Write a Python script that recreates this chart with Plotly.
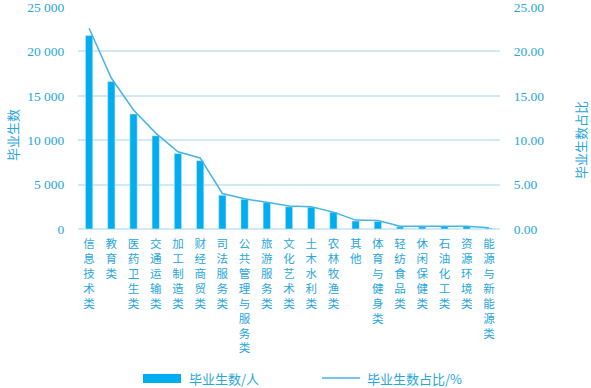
import plotly.graph_objects as go

categories = ["信息技术类", "教育类", "医药卫生类", "交通运输类", "加工制造类", "财经商贸类",
              "司法服务类", "公共管理与服务类", "旅游服务类", "文化艺术类", "土木水利类",
              "农林牧渔类", "其他", "体育与健身类", "轻纺食品类", "休闲保健类", "石油化工类",
              "资源环境类", "能源与新能源类"]
graduates = [21800, 16600, 12950, 10500, 8500, 7700, 3800, 3350, 3000, 2500, 2450,
             1900, 900, 850, 250, 250, 300, 300, 100]
share_pct = [22.6, 17.0, 13.4, 10.8, 8.7, 8.0, 4.0, 3.4, 3.0, 2.6, 2.5,
             1.9, 1.0, 0.95, 0.3, 0.3, 0.3, 0.3, 0.15]
left_ticks = [0, 5000, 10000, 15000, 20000, 25000]
right_ticks = [0, 5, 10, 15, 20, 25]

BAR = "#00AEEF"
LINE = "#45B5E3"
TXT = "#27A6DD"
GRID = "#CFEAF6"
CJK = "Noto Sans CJK SC"
SERIF = "'Liberation Serif'"

W, H = 591, 388
L, R, T, B = 78, 91, 7, 159
pw, ph = W - L - R, H - T - B

def px(x):
    return (x - L) / pw

def py(y):
    return (H - B - y) / ph

fig = go.Figure()
fig.add_trace(go.Bar(x=categories, y=graduates, marker_color=BAR, width=0.33,
                     name="毕业生数/人", showlegend=False))
fig.add_trace(go.Scatter(x=categories, y=share_pct, yaxis="y2", mode="lines",
                         line=dict(color=LINE, width=1.5), name="毕业生数占比/%",
                         showlegend=False))

fig.update_layout(
    width=W, height=H,
    margin=dict(l=L, r=R, t=T, b=B, autoexpand=False),
    paper_bgcolor="white", plot_bgcolor="white",
    separators=". ",
    xaxis=dict(
        automargin=False,
        tickmode="array", tickvals=categories,
        ticktext=["<br>".join(list(c)) for c in categories],
        tickangle=0, tickfont=dict(family=CJK, size=11.5, color=TXT),
        ticks="outside", ticklen=4, tickcolor="rgba(0,0,0,0)",
        showgrid=False, showline=False, zeroline=False,
    ),
    yaxis=dict(
        automargin=False, ticklabeloverflow="allow",
        range=[0, 25000], tickvals=left_ticks, tickformat=",d",
        tickfont=dict(family=SERIF, size=13.5, color=TXT),
        ticks="outside", ticklen=10, tickcolor="rgba(0,0,0,0)",
        showgrid=True, gridcolor=GRID, gridwidth=1.5,
        zeroline=True, zerolinecolor=GRID, zerolinewidth=1.5, showline=False,
    ),
    yaxis2=dict(
        automargin=False, ticklabeloverflow="allow",
        range=[0, 25], tickvals=right_ticks, tickformat=".2f",
        overlaying="y", side="right",
        tickfont=dict(family=SERIF, size=13.5, color=TXT),
        ticks="outside", ticklen=10, tickcolor="rgba(0,0,0,0)",
        showgrid=False, zeroline=False, showline=False,
    ),
    showlegend=False,
)

# axis titles
fig.add_annotation(xref="paper", yref="paper", x=px(12), y=py(135), text="毕业生数",
                   textangle=-90, showarrow=False, xanchor="center", yanchor="middle",
                   font=dict(family=CJK, size=13, color=TXT))
fig.add_annotation(xref="paper", yref="paper", x=px(580), y=py(140), text="毕业生数占比",
                   textangle=-90, showarrow=False, xanchor="center", yanchor="middle",
                   font=dict(family=CJK, size=13, color=TXT))

# custom legend
fig.add_shape(type="rect", xref="paper", yref="paper",
              x0=px(143), x1=px(181), y0=py(383), y1=py(374),
              fillcolor=BAR, line=dict(width=0))
fig.add_shape(type="line", xref="paper", yref="paper",
              x0=px(322), x1=px(360), y0=py(378), y1=py(378),
              line=dict(color=LINE, width=1.5))
fig.add_annotation(xref="paper", yref="paper", x=px(187), y=py(378), text="毕业生数/人",
                   showarrow=False, xanchor="left", yanchor="middle",
                   font=dict(family=CJK, size=13, color=TXT))
fig.add_annotation(xref="paper", yref="paper", x=px(365), y=py(378), text="毕业生数占比/%",
                   showarrow=False, xanchor="left", yanchor="middle",
                   font=dict(family=CJK, size=13, color=TXT))

fig.write_html("out.html", config={"displayModeBar": False},
               post_script="document.body.style.margin='0';document.body.style.overflow='hidden';")
